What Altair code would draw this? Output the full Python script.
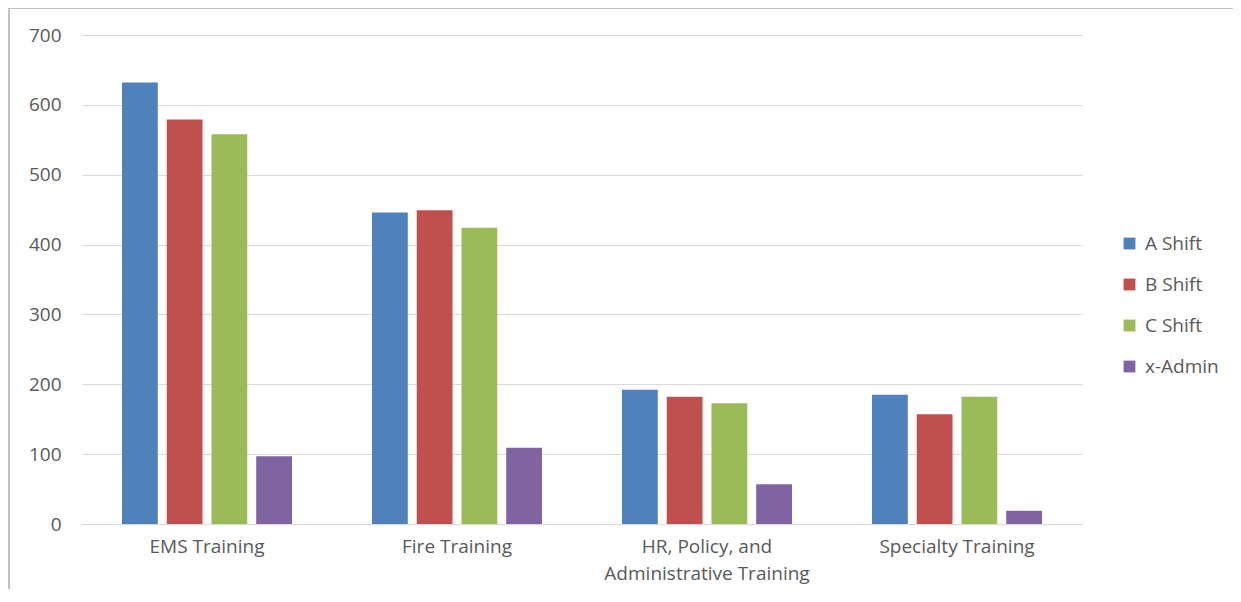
import altair as alt
import pandas as pd

categories = ["EMS Training", "Fire Training", "HR, Policy, and\nAdministrative Training", "Specialty Training"]
series = ["A Shift", "B Shift", "C Shift", "x-Admin"]
a_shift = [632, 446, 192, 185]
b_shift = [579, 449, 182, 157]
c_shift = [558, 424, 173, 182]
x_admin = [97, 109, 57, 19]
colors = ["#4F81BD", "#C0504D", "#9BBB59", "#8064A2"]
y_ticks = [0, 100, 200, 300, 400, 500, 600, 700]

rows = []
for i, c in enumerate(categories):
    for s, vals in zip(series, [a_shift, b_shift, c_shift, x_admin]):
        rows.append({"category": c, "series": s, "value": vals[i]})
df = pd.DataFrame(rows)

W, H = 1000, 489
PAD = {"left": 74, "top": 27, "right": 151, "bottom": 65}
FONT = "Open Sans"
FS = 19

bars = alt.Chart(df).mark_bar().encode(
    x=alt.X("category:N", sort=categories, title=None,
            scale=alt.Scale(paddingInner=0.32, paddingOuter=0.16),
            axis=alt.Axis(labelAngle=0, domain=True, domainColor="#d9d9d9", ticks=False,
                          labelColor="#595959", labelFontSize=FS, labelFont=FONT,
                          labelPadding=13, labelLineHeight=27, labelLimit=0,
                          labelExpr="split(datum.label, '\\n')")),
    xOffset=alt.XOffset("series:N", sort=series,
                        scale=alt.Scale(paddingInner=0.2, paddingOuter=0)),
    y=alt.Y("value:Q", title=None,
            scale=alt.Scale(domain=[0, 700], nice=False),
            axis=alt.Axis(values=y_ticks, domain=False, ticks=False, grid=True,
                          gridColor="#d9d9d9", labelColor="#595959", labelFontSize=FS,
                          labelFont=FONT, labelPadding=21)),
    color=alt.Color("series:N", sort=series,
                    scale=alt.Scale(domain=series, range=colors),
                    legend=alt.Legend(title=None, orient="none", legendX=1038, legendY=199,
                                      symbolType="square", symbolSize=140,
                                      symbolStrokeWidth=0, labelFontSize=FS,
                                      labelFont=FONT, labelColor="#595959",
                                      rowPadding=21, labelOffset=6)),
)

frame_left = alt.Chart(df).mark_rule(color="#bfbfbf", strokeWidth=1.5).encode(
    x=alt.value(-73.5), y=alt.value(-27), y2=alt.value(H + PAD["bottom"]))
frame_top = alt.Chart(df).mark_rule(color="#bfbfbf", strokeWidth=1.5).encode(
    x=alt.value(-74), x2=alt.value(W + PAD["right"]), y=alt.value(-27))

chart = alt.layer(bars, frame_left, frame_top).properties(
    width=W, height=H, padding=PAD,
    autosize=alt.AutoSizeParams(type="none"),
).configure(background="white").configure_view(stroke=None)

chart.save("out.html", embed_options={"renderer": "svg", "actions": False})
